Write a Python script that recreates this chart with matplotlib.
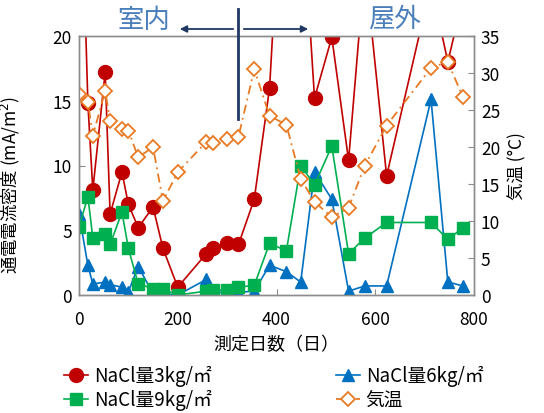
import matplotlib
matplotlib.use("Agg")
import matplotlib.pyplot as plt
from matplotlib.lines import Line2D

plt.rcParams['font.family'] = ['Noto Sans CJK JP', 'DejaVu Sans']

# measurement days
days = [0, 18, 28, 53, 63, 87, 100, 120, 150, 170, 200, 258, 272, 300, 323,
        355, 386, 420, 449, 477, 512, 546, 579, 623, 713, 747, 778]

# current density (mA/m2) for each NaCl content
nacl3 = [38, 14.8, 8.1, 17.2, 6.25, 9.5, 7.0, 5.2, 6.8, 3.6, 0.6, 3.2, 3.6, 4.0, 3.9,
         7.4, 16.0, 39, 32, 15.2, 19.9, 10.4, 25.5, 9.2, 24, 18.0, 23]
nacl6 = [6.25, 2.3, 0.85, 1.0, 0.8, 0.6, 0.25, 2.2, 0.1, 0.1, 0.0, 1.2, 0.2, 0.2, 0.2,
         0.3, 2.3, 1.8, 1.0, 9.5, 7.4, 0.3, 0.7, 0.7, 15.1, 1.0, 0.7]
nacl9 = [5.25, 7.6, 4.4, 4.7, 3.9, 6.4, 3.6, 0.85, 0.5, 0.45, 0.0, 0.3, 0.35, 0.4, 0.6,
         0.75, 4.0, 3.4, 10.0, 8.5, 11.5, 3.2, 4.4, 5.6, 5.6, 4.3, 5.2]
# air temperature (deg C)
temp = [27.2, 26.1, 21.5, 27.6, 23.5, 22.4, 22.2, 18.6, 20.0, 12.7, 16.6, 20.7, 20.5, 21.1, 21.4,
        30.5, 24.2, 23.0, 15.7, 12.6, 10.5, 11.8, 17.5, 22.9, 30.7, 31.5, 26.7]

labels = ['NaCl量3kg/㎡', 'NaCl量6kg/㎡', 'NaCl量9kg/㎡', '気温']
x_ticks = [0, 200, 400, 600, 800]
y_ticks = [0, 5, 10, 15, 20]
t_ticks = [0, 5, 10, 15, 20, 25, 30, 35]

RED = '#C00000'
BLUE = '#0070C0'
GREEN = '#00B050'
ORANGE = '#E87A24'
SPINE = '#8C8C8C'

W, H = 544, 414
fig = plt.figure(figsize=(W / 100, H / 100), dpi=100)
ax = fig.add_axes([79 / W, 1 - 296 / H, (474 - 79) / W, (296 - 37) / H])
ax2 = ax.twinx()

l3, = ax.plot(days, nacl3, color=RED, lw=1.2, marker='o', ms=10, mfc=RED, mec=RED, zorder=2)
l6, = ax.plot(days, nacl6, color=BLUE, lw=1.2, marker='^', ms=9, mfc=BLUE, mec=BLUE, zorder=3)
l9, = ax.plot(days, nacl9, color=GREEN, lw=1.2, marker='s', ms=8.5, mfc=GREEN, mec=GREEN, zorder=4)
lt, = ax2.plot(days, temp, color=ORANGE, lw=1.3, ls=(0, (5, 2.5, 1, 2.5)), marker='D', ms=7,
               mfc='white', mec=ORANGE, mew=1.3)

ax.set_xlim(0, 800)
ax.set_ylim(0, 20)
ax2.set_ylim(0, 35)
ax.set_xticks(x_ticks)
ax.set_yticks(y_ticks)
ax2.set_yticks(t_ticks)

for a in (ax, ax2):
    for s in a.spines.values():
        s.set_color(SPINE)
        s.set_linewidth(1.0)
    a.tick_params(direction='in', length=4, color=SPINE, labelsize=12.5, pad=5)
ax.tick_params(axis='x', pad=11)

ax.set_xlabel('測定日数（日）', fontsize=13, labelpad=5)
ax.set_ylabel('通電電流密度 (mA/m$^2$)', fontsize=12.5, labelpad=6)
ax2.set_ylabel('気温 (°C)', fontsize=12.5, labelpad=6)
ax.yaxis.set_label_coords(-0.145, 0.43)

# indoor / outdoor annotation
TXT = '#4A7EBB'
NAVY = '#1F3864'
def fx(px):
    return px / W
def fy(py):
    return 1 - py / H

fig.text(fx(144), fy(20), '室内', color=TXT, fontsize=19, ha='center', va='center')
fig.text(fx(394), fy(19), '屋外', color=TXT, fontsize=19, ha='center', va='center')
fig.add_artist(Line2D([fx(238), fx(238)], [fy(10), fy(120)], color=NAVY, lw=2.0))
arrow_kw = dict(arrowstyle='-|>', color=NAVY, lw=1.3, mutation_scale=10)
ax.annotate('', xy=(fx(177), fy(30)), xytext=(fx(236), fy(30)),
            xycoords='figure fraction', textcoords='figure fraction',
            arrowprops=arrow_kw, annotation_clip=False)
ax.annotate('', xy=(fx(311), fy(30)), xytext=(fx(241), fy(30)),
            xycoords='figure fraction', textcoords='figure fraction',
            arrowprops=arrow_kw, annotation_clip=False)

fig.legend([l3, l9, l6, lt], [labels[0], labels[2], labels[1], labels[3]],
           ncol=2, loc='upper left', bbox_to_anchor=(fx(64), fy(366)),
           frameon=False, fontsize=13.5, handlelength=1.3, handletextpad=0.3,
           columnspacing=6.6, labelspacing=0.16, borderaxespad=0, borderpad=0)

fig.savefig('out.png', dpi=100)
